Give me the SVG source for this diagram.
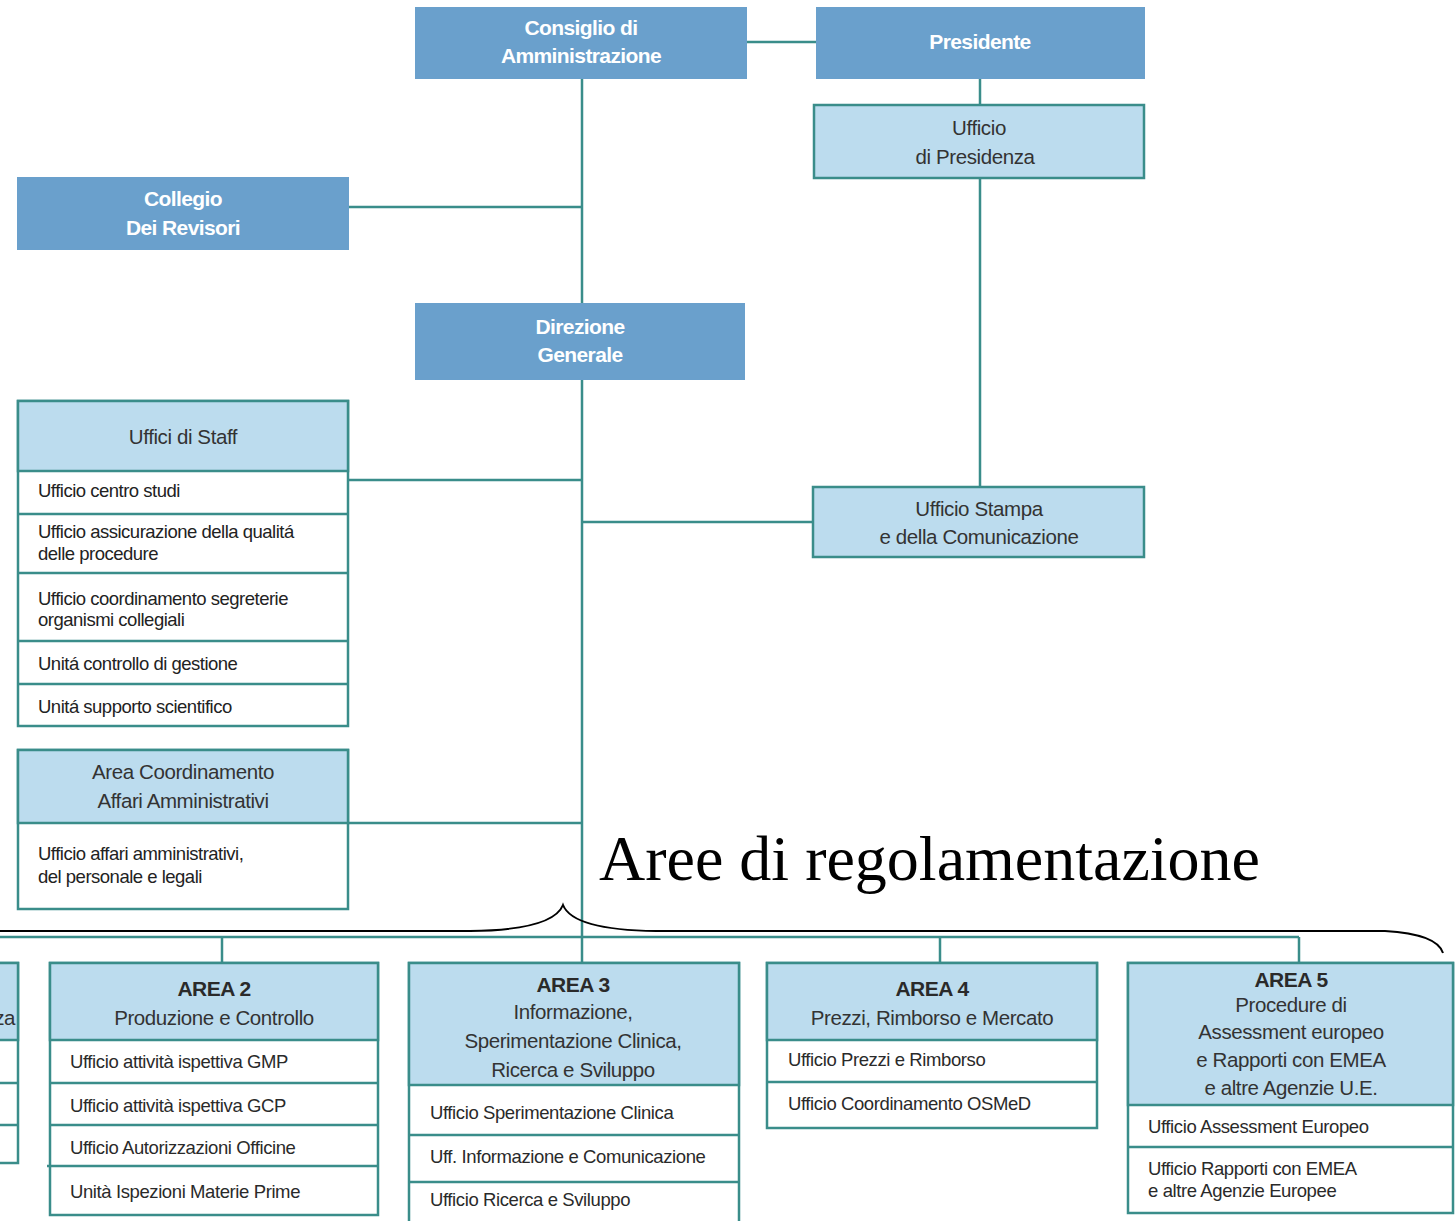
<svg xmlns="http://www.w3.org/2000/svg" width="1456" height="1221" viewBox="0 0 1456 1221">
  <style>
    .dark { fill: #6aa0cc; }
    .light { fill: #bcdcee; stroke: #3a8d8a; stroke-width: 2.5; }
    .row { fill: #ffffff; stroke: #3a8d8a; stroke-width: 2.5; }
    .sep { stroke: #3a8d8a; stroke-width: 2.5; }
    .conn { stroke: #3a8d8a; stroke-width: 2.5; fill: none; }
    .wt { font-family: "Liberation Sans", Arial, sans-serif; font-weight: bold; font-size: 21px; fill: #ffffff; text-anchor: middle; letter-spacing: -0.6px; }
    .hd { font-family: "Liberation Sans", Arial, sans-serif; font-size: 20.5px; fill: #333333; text-anchor: middle; letter-spacing: -0.4px; }
    .ab { font-family: "Liberation Sans", Arial, sans-serif; font-weight: bold; font-size: 21px; fill: #2a2a2a; text-anchor: middle; letter-spacing: -0.5px; }
    .it { font-family: "Liberation Sans", Arial, sans-serif; font-size: 18.5px; fill: #2a2a2a; letter-spacing: -0.4px; }
    .st { font-family: "Liberation Sans", Arial, sans-serif; font-size: 18.5px; fill: #222222; letter-spacing: -0.5px; }
    .big { font-family: "Liberation Serif", "Times New Roman", serif; font-size: 64px; fill: #000000; }
  </style>

  <!-- connectors -->
  <g id="connectors">
    <line class="conn" x1="737" y1="42" x2="816" y2="42"/>
    <line class="conn" x1="980" y1="79" x2="980" y2="105"/>
    <line class="conn" x1="980" y1="178" x2="980" y2="487"/>
    <line class="conn" x1="582" y1="79" x2="582" y2="937"/>
    <line class="conn" x1="349" y1="207" x2="582" y2="207"/>
    <line class="conn" x1="348" y1="480" x2="582" y2="480"/>
    <line class="conn" x1="582" y1="522" x2="813" y2="522"/>
    <line class="conn" x1="348" y1="823" x2="582" y2="823"/>
    <line class="conn" x1="0" y1="937" x2="1299" y2="937"/>
    <line class="conn" x1="222" y1="937" x2="222" y2="963"/>
    <line class="conn" x1="582" y1="937" x2="582" y2="963"/>
    <line class="conn" x1="940" y1="937" x2="940" y2="963"/>
    <line class="conn" x1="1299" y1="937" x2="1299" y2="963"/>
  </g>

  <!-- top level -->
  <g id="consiglio">
    <rect class="dark" x="415" y="7" width="332" height="72"/>
    <text class="wt" x="581" y="35">Consiglio di</text>
    <text class="wt" x="581" y="63">Amministrazione</text>
  </g>
  <g id="presidente">
    <rect class="dark" x="816" y="7" width="329" height="72"/>
    <text class="wt" x="980" y="49">Presidente</text>
  </g>
  <g id="ufficio-presidenza">
    <rect class="light" x="814" y="105" width="330" height="73"/>
    <text class="hd" x="979" y="135">Ufficio</text>
    <text class="hd" x="975" y="164">di Presidenza</text>
  </g>
  <g id="collegio">
    <rect class="dark" x="17" y="177" width="332" height="73"/>
    <text class="wt" x="183" y="206">Collegio</text>
    <text class="wt" x="183" y="235">Dei Revisori</text>
  </g>
  <g id="direzione">
    <rect class="dark" x="415" y="303" width="330" height="77"/>
    <text class="wt" x="580" y="334">Direzione</text>
    <text class="wt" x="580" y="362">Generale</text>
  </g>
  <g id="ufficio-stampa">
    <rect class="light" x="813" y="487" width="331" height="70"/>
    <text class="hd" x="979" y="516">Ufficio Stampa</text>
    <text class="hd" x="979" y="544">e della Comunicazione</text>
  </g>

  <!-- staff -->
  <g id="uffici-staff">
    <rect class="row" x="18" y="401" width="330" height="325"/>
    <rect class="light" x="18" y="401" width="330" height="70"/>
    <line class="sep" x1="18" y1="514" x2="348" y2="514"/>
    <line class="sep" x1="18" y1="573" x2="348" y2="573"/>
    <line class="sep" x1="18" y1="641" x2="348" y2="641"/>
    <line class="sep" x1="18" y1="684" x2="348" y2="684"/>
    <text class="hd" x="183" y="444">Uffici di Staff</text>
    <text class="st" x="38" y="497">Ufficio centro studi</text>
    <text class="st" x="38" y="538">Ufficio assicurazione della qualitá</text>
    <text class="st" x="38" y="560">delle procedure</text>
    <text class="st" x="38" y="605">Ufficio coordinamento segreterie</text>
    <text class="st" x="38" y="626">organismi collegiali</text>
    <text class="st" x="38" y="670">Unitá controllo di gestione</text>
    <text class="st" x="38" y="713">Unitá supporto scientifico</text>
  </g>

  <g id="area-affari">
    <rect class="row" x="18" y="750" width="330" height="159"/>
    <rect class="light" x="18" y="750" width="330" height="73"/>
    <text class="hd" x="183" y="779">Area Coordinamento</text>
    <text class="hd" x="183" y="808">Affari Amministrativi</text>
    <text class="st" x="38" y="860">Ufficio affari amministrativi,</text>
    <text class="st" x="38" y="883">del personale e legali</text>
  </g>

  <!-- brace and caption -->
  <g id="aree-label">
    <text class="big" x="599" y="880">Aree di regolamentazione</text>
    <path d="M 0 931 L 470 931 Q 553 930 563 905 Q 573 930 656 931 L 1385 931 Q 1437 934 1443 953" fill="none" stroke="#000000" stroke-width="2"/>
  </g>

  <!-- regulatory areas -->
  <g id="area-1">
    <rect class="row" x="-20" y="963" width="38" height="200"/>
    <rect class="light" x="-20" y="963" width="38" height="77"/>
    <line class="sep" x1="-20" y1="1083" x2="18" y2="1083"/>
    <line class="sep" x1="-20" y1="1125" x2="18" y2="1125"/>
    <text class="hd" x="15" y="1025" style="text-anchor:end">za</text>
  </g>

  <g id="area-2">
    <rect class="row" x="50" y="963" width="328" height="252"/>
    <rect class="light" x="50" y="963" width="328" height="77"/>
    <line class="sep" x1="50" y1="1083" x2="378" y2="1083"/>
    <line class="sep" x1="50" y1="1125" x2="378" y2="1125"/>
    <line class="sep" x1="47" y1="1166" x2="378" y2="1166"/>
    <text class="ab" x="214" y="996">AREA 2</text>
    <text class="hd" x="214" y="1025">Produzione e Controllo</text>
    <text class="it" x="70" y="1068">Ufficio attività ispettiva GMP</text>
    <text class="it" x="70" y="1112">Ufficio attività ispettiva GCP</text>
    <text class="it" x="70" y="1154">Ufficio Autorizzazioni Officine</text>
    <text class="it" x="70" y="1198">Unità Ispezioni Materie Prime</text>
  </g>

  <g id="area-3">
    <rect class="row" x="409" y="963" width="330" height="270"/>
    <rect class="light" x="409" y="963" width="330" height="122"/>
    <line class="sep" x1="409" y1="1135" x2="739" y2="1135"/>
    <line class="sep" x1="409" y1="1182" x2="739" y2="1182"/>
    <text class="ab" x="573" y="992">AREA 3</text>
    <text class="hd" x="573" y="1019">Informazione,</text>
    <text class="hd" x="573" y="1048">Sperimentazione Clinica,</text>
    <text class="hd" x="573" y="1077">Ricerca e Sviluppo</text>
    <text class="it" x="430" y="1119">Ufficio Sperimentazione Clinica</text>
    <text class="it" x="430" y="1163">Uff. Informazione e Comunicazione</text>
    <text class="it" x="430" y="1206">Ufficio Ricerca e Sviluppo</text>
  </g>

  <g id="area-4">
    <rect class="row" x="767" y="963" width="330" height="165"/>
    <rect class="light" x="767" y="963" width="330" height="77"/>
    <line class="sep" x1="767" y1="1082" x2="1097" y2="1082"/>
    <text class="ab" x="932" y="996">AREA 4</text>
    <text class="hd" x="932" y="1025">Prezzi, Rimborso e Mercato</text>
    <text class="it" x="788" y="1066">Ufficio Prezzi e Rimborso</text>
    <text class="it" x="788" y="1110">Ufficio Coordinamento OSMeD</text>
  </g>

  <g id="area-5">
    <rect class="row" x="1128" y="963" width="325" height="250"/>
    <rect class="light" x="1128" y="963" width="325" height="142"/>
    <line class="sep" x1="1128" y1="1147" x2="1453" y2="1147"/>
    <text class="ab" x="1291" y="987">AREA 5</text>
    <text class="hd" x="1291" y="1012">Procedure di</text>
    <text class="hd" x="1291" y="1039">Assessment europeo</text>
    <text class="hd" x="1291" y="1067">e Rapporti con EMEA</text>
    <text class="hd" x="1291" y="1095">e altre Agenzie U.E.</text>
    <text class="it" x="1148" y="1133">Ufficio Assessment Europeo</text>
    <text class="it" x="1148" y="1175">Ufficio Rapporti con EMEA</text>
    <text class="it" x="1148" y="1197">e altre Agenzie Europee</text>
  </g>
</svg>
